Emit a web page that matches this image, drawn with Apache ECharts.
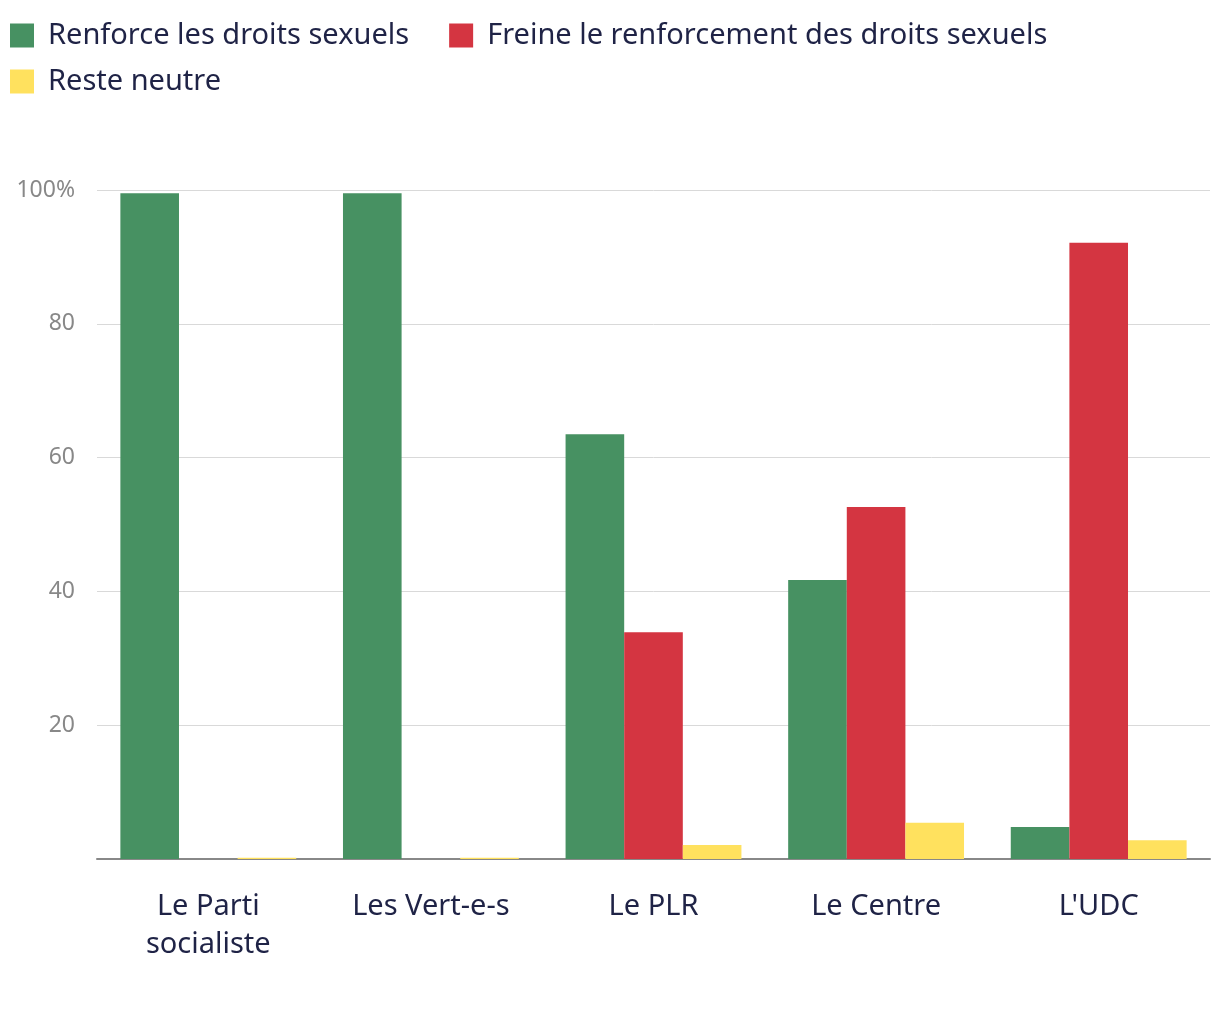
<!DOCTYPE html>
<html><head><meta charset="utf-8">
<script src="https://cdn.jsdelivr.net/npm/echarts@6/dist/echarts.min.js"></script>
<style>html,body{margin:0;padding:0;background:#fff}#c{width:1220px;height:1020px}</style>
</head><body><div id="c"></div>
<script>
const categories = ["Le Parti\nsocialiste", "Les Vert-e-s", "Le PLR", "Le Centre", "L'UDC"];
const seriesNames = ["Renforce les droits sexuels", "Freine le renforcement des droits sexuels", "Reste neutre"];
const renforce = [99.5, 99.5, 63.5, 41.7, 4.8];
const freine = [0, 0, 33.9, 52.6, 92.1];
const neutre = [0.2, 0.2, 2.1, 5.4, 2.8];
const colors = ["#479162", "#d43541", "#ffe15e"];
const FONT = "'Noto Sans', sans-serif";
const chart = echarts.init(document.getElementById('c'));
const legendCommon = {
  left: 10, padding: 0, itemWidth: 24, itemHeight: 24, itemGap: 40, icon: 'rect',
  selectedMode: false,
  textStyle: {fontFamily: FONT, fontSize: 29, color: '#1f2346', padding: [0,0,0,9]}
};
chart.setOption({
  animation: false,
  color: colors,
  legend: [
    Object.assign({}, legendCommon, {top: 21, data: [seriesNames[0], seriesNames[1]]}),
    Object.assign({}, legendCommon, {top: 67, data: [seriesNames[2]]})
  ],
  grid: {left: 97, right: 10, top: 190, bottom: 161},
  xAxis: {
    type: 'category', data: categories,
    axisLine: {lineStyle: {color: '#888', width: 2}},
    axisTick: {show: false},
    axisLabel: {fontFamily: FONT, fontSize: 29, color: '#1f2346', margin: 29, lineHeight: 38}
  },
  yAxis: {
    type: 'value', min: 0, max: 100, interval: 20,
    axisLine: {show: false}, axisTick: {show: false},
    splitLine: {lineStyle: {color: '#d9d9d9'}},
    axisLabel: {fontFamily: FONT, fontSize: 23, color: '#888', margin: 22,
      formatter: v => v === 0 ? '' : (v === 100 ? '100%' : String(v))}
  },
  series: [
    {name: seriesNames[0], type: 'bar', data: renforce, barGap: '0%', barCategoryGap: '21%'},
    {name: seriesNames[1], type: 'bar', data: freine},
    {name: seriesNames[2], type: 'bar', data: neutre}
  ]
});
</script></body></html>
